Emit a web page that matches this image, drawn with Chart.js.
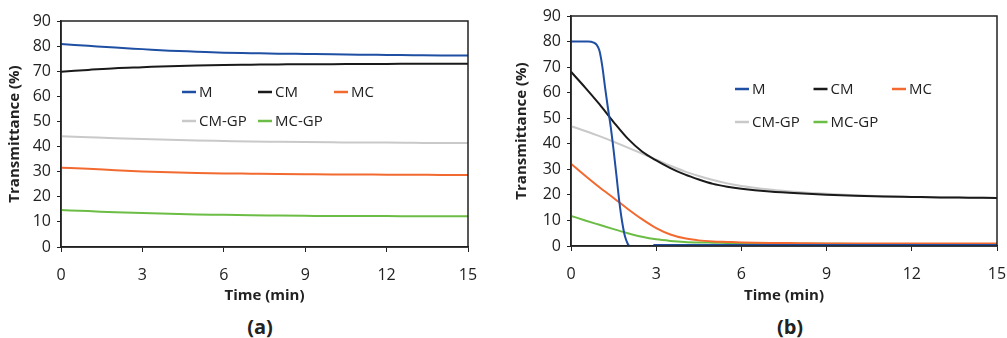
<!DOCTYPE html>
<html>
<head>
<meta charset="utf-8">
<script src="https://cdn.jsdelivr.net/npm/chart.js@4.4.1/dist/chart.umd.min.js"></script>
<style>
  body { margin: 0; background: #fff; font-family: "Open Sans", sans-serif; }
  #wrap { position: relative; width: 1007px; height: 338px; }
  .box { position: absolute; top: 0; height: 305px; }
  .cap { position: absolute; top: 313px; font-weight: bold; font-size: 20px; line-height: 28px; color: #222; transform: translateX(-50%); }
</style>
</head>
<body>
<div id="wrap">
  <div class="box" style="left:0; width:500px;"><canvas id="grafA"></canvas></div>
  <div class="box" style="left:500px; width:507px;"><canvas id="grafB"></canvas></div>
  <div class="cap" style="left:260px;">(a)</div>
  <div class="cap" style="left:790px;">(b)</div>
</div>
<script>
// (a) one reading per minute
const minuteA = [0, 1, 2, 3, 4, 5, 6, 7, 8, 9, 10, 11, 12, 13, 14, 15];
const aM    = [80.8, 80.1, 79.4, 78.8, 78.2, 77.8, 77.4, 77.2, 77.0, 76.9, 76.8, 76.6, 76.5, 76.4, 76.3, 76.3];
const aCM   = [69.8, 70.5, 71.2, 71.6, 72.0, 72.3, 72.5, 72.6, 72.7, 72.8, 72.8, 72.9, 72.9, 73.0, 73.0, 73.0];
const aMC   = [31.6, 31.2, 30.6, 30.1, 29.8, 29.5, 29.3, 29.2, 29.1, 29.0, 28.9, 28.9, 28.8, 28.8, 28.7, 28.7];
const aCMGP = [44.1, 43.7, 43.3, 43.0, 42.7, 42.4, 42.2, 42.0, 41.9, 41.8, 41.7, 41.6, 41.6, 41.5, 41.4, 41.4];
const aMCGP = [14.7, 14.3, 13.8, 13.5, 13.2, 12.9, 12.8, 12.6, 12.5, 12.4, 12.3, 12.3, 12.3, 12.2, 12.2, 12.2];

// (b) M drops fast, so it has its own time points
const minuteBM = [0, 0.6, 0.8, 0.9, 1.0, 1.1, 1.2, 1.3, 1.4, 1.5, 1.6, 1.7, 1.8, 1.9, 2.0, 2.05, 2.5, 2.9, 3, 6, 9, 12, 15];
const bM       = [80, 80, 79.6, 78.8, 76.5, 70.5, 62, 54, 46.5, 37.5, 27.6, 17.5, 9.5, 3.8, 0.8, 0, null, 0.4, 0.4, 0.4, 0.4, 0.4, 0.4];
const minuteB = [0, 0.5, 1, 1.5, 2, 2.5, 3, 3.5, 4, 4.5, 5, 5.5, 6, 7, 8, 9, 10, 11, 12, 13, 14, 15];
const bCM   = [68.2, 62, 55.5, 48.5, 42, 37, 33.5, 30.5, 28, 26, 24.3, 23.2, 22.4, 21.3, 20.6, 20.1, 19.7, 19.4, 19.2, 19.0, 18.9, 18.8];
const bMC   = [32.2, 27.5, 23, 18.8, 14.5, 10.5, 7, 4.5, 3, 2.2, 1.8, 1.6, 1.4, 1.2, 1.1, 1.0, 1.0, 1.0, 1.0, 1.0, 1.0, 1.0];
const bCMGP = [46.9, 45, 43, 40.8, 38.5, 36.2, 33.8, 31.4, 29.2, 27.4, 25.8, 24.5, 23.5, 22.1, 21.1, 20.4, 19.9, 19.5, 19.2, 19.0, 18.9, 18.8];
const bMCGP = [11.8, 10, 8.3, 6.6, 5, 3.6, 2.6, 2.0, 1.6, 1.4, 1.3, 1.2, 1.1, 1.0, 0.9, 0.9, 0.8, 0.8, 0.8, 0.8, 0.8, 0.8];

const xTicks = [0, 3, 6, 9, 12, 15];

const boje = {
    'M':     '#1f4fa3',
    'CM':    '#1a1a1a',
    'MC':    '#f26a30',
    'CM-GP': '#c9c9c9',
    'MC-GP': '#6cbd45'
};

const font = "'Open Sans', sans-serif";

function tocke(x, y) {
    return x.map((t, i) => ({ x: t, y: y[i] }));
}

function serija(naziv, x, y) {
    return {
        label: naziv,
        data: tocke(x, y),
        borderColor: boje[naziv],
        backgroundColor: boje[naziv],
        borderWidth: 2,
        pointRadius: 0,
        cubicInterpolationMode: 'monotone',
        spanGaps: false
    };
}

// box around plot area + legend inside it
const okvirPlugin = {
    id: 'okvir',
    afterDatasetsDraw(chart, args, opts) {
        const ca = chart.chartArea;
        const ctx = chart.ctx;
        ctx.save();
        ctx.strokeStyle = '#222';
        ctx.lineWidth = 1.5;
        ctx.strokeRect(ca.left, ca.top, ca.right - ca.left, ca.bottom - ca.top);

        ctx.font = '15px ' + font;
        ctx.textBaseline = 'middle';
        ctx.fillStyle = '#222';
        chart.data.datasets.forEach((ds, i) => {
            const col = i % 3, row = Math.floor(i / 3);
            const x = ca.left + opts.x + col * opts.colW;
            const y = ca.top + opts.y + row * opts.rowH;
            ctx.strokeStyle = ds.borderColor;
            ctx.lineWidth = 2.5;
            ctx.beginPath();
            ctx.moveTo(x, y);
            ctx.lineTo(x + 14, y);
            ctx.stroke();
            ctx.fillText(ds.label, x + 17, y + 1);
        });
        ctx.restore();
    }
};

function opcije(yWidth, xHeight, pad, titlePad, leg) {
    return {
        responsive: true,
        maintainAspectRatio: false,
        animation: false,
        layout: { padding: pad },
        plugins: {
            legend: { display: false },
            tooltip: { enabled: false },
            okvir: leg
        },
        scales: {
            x: {
                type: 'linear',
                min: 0, max: 15,
                afterBuildTicks: (s) => { s.ticks = xTicks.map(v => ({ value: v })); },
                afterFit: (s) => { s.height = xHeight; s.paddingLeft = 0; s.paddingRight = 0; },
                grid: { drawOnChartArea: false, tickLength: 5, color: '#222' },
                border: { color: '#222', width: 1.5 },
                ticks: { padding: 14, color: '#222', font: { family: font, size: 16 }, maxRotation: 0 },
                title: { display: true, text: 'Time (min)', color: '#222', padding: { top: -3, bottom: 0 },
                         font: { family: font, size: 15, weight: 'bold' } }
            },
            y: {
                min: 0, max: 90,
                afterFit: (s) => { s.width = yWidth; s.paddingTop = 0; s.paddingBottom = 0; },
                grid: { drawOnChartArea: false, tickLength: 4, color: '#222' },
                border: { color: '#222', width: 1.5 },
                ticks: { stepSize: 10, padding: 6, color: '#222', font: { family: font, size: 16 } },
                title: { display: true, text: 'Transmittance (%)', color: '#222', padding: { top: titlePad, bottom: 0 },
                         font: { family: font, size: 15, weight: 'bold' } }
            }
        }
    };
}

new Chart(document.getElementById('grafA'), {
    type: 'line',
    data: {
        datasets: [
            serija('M', minuteA, aM),
            serija('CM', minuteA, aCM),
            serija('MC', minuteA, aMC),
            serija('CM-GP', minuteA, aCMGP),
            serija('MC-GP', minuteA, aMCGP)
        ]
    },
    options: opcije(61, 58, { top: 21, right: 32, left: 0, bottom: 0 }, 6,
                    { x: 121, y: 71, colW: 76, rowH: 29 }),
    plugins: [okvirPlugin]
});

new Chart(document.getElementById('grafB'), {
    type: 'line',
    data: {
        datasets: [
            serija('M', minuteBM, bM),
            serija('CM', minuteB, bCM),
            serija('MC', minuteB, bMC),
            serija('CM-GP', minuteB, bCMGP),
            serija('MC-GP', minuteB, bMCGP)
        ]
    },
    options: opcije(71, 59, { top: 16, right: 10, left: 0, bottom: 0 }, 13,
                    { x: 164, y: 73, colW: 78.5, rowH: 33 }),
    plugins: [okvirPlugin]
});
</script>
</body>
</html>
